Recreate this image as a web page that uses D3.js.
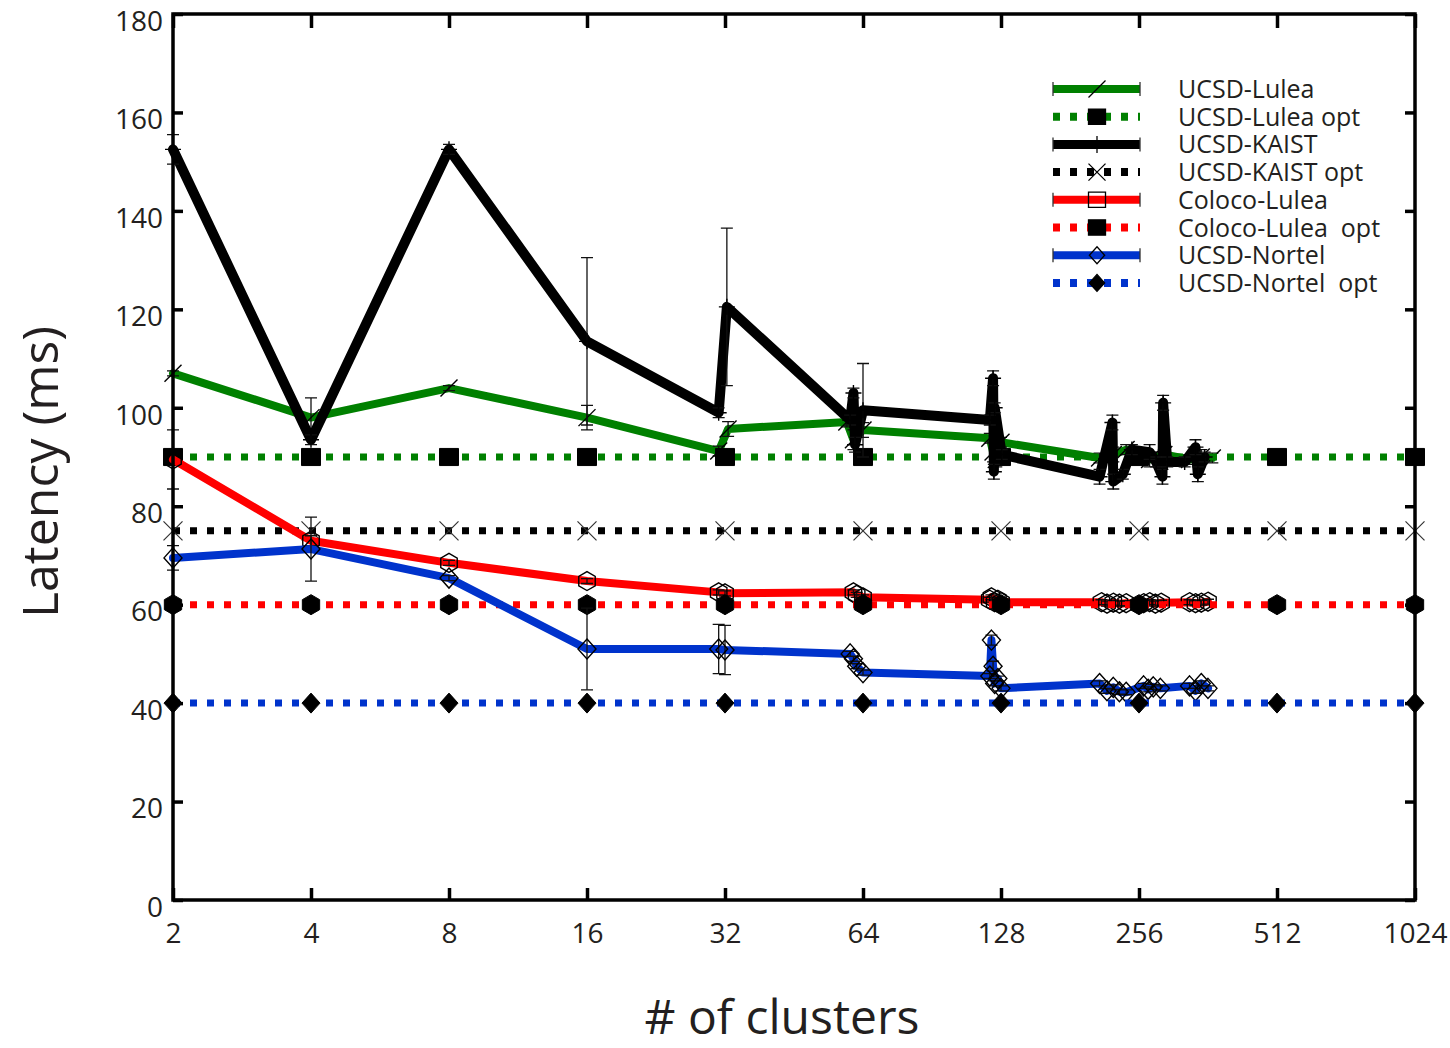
<!DOCTYPE html>
<html><head><meta charset="utf-8">
<script src="https://cdn.jsdelivr.net/npm/d3@7"></script>
<style>
body{margin:0;background:#fff}
text{font-family:"Open Sans",sans-serif;fill:#231f20;white-space:pre}
</style>
</head><body>
<svg id="c" width="1450" height="1048"></svg>
<script>
// ---------- data ----------
const xTicks = [2, 4, 8, 16, 32, 64, 128, 256, 512, 1024];
const yTicks = [0, 20, 40, 60, 80, 100, 120, 140, 160, 180];

const luleaX   = [2, 4, 8, 16, 31, 32.5, 59, 61, 64, 121, 123, 125, 128, 210, 225, 240, 255, 270, 290, 330, 350, 370];
const luleaY   = [107, 98, 104, 98, 91.2, 95.7, 97.1, 93.5, 95.5, 93.8, 91, 89.5, 93, 89.8, 90.5, 91.5, 90, 89.5, 90.5, 89.5, 90, 89.8];
const luleaErr = [0.5, 4, 0.5, 2.5, 1, 1.5, 1, 2, 1.5, 1, 2, 1.5, 1, 1, 1.5, 1, 1, 1.5, 1, 1, 1.5, 1];

const kaistX   = [2, 4, 8, 16, 31, 32.3, 60, 61, 61.5, 64, 121, 123, 123.5, 124, 128.5, 210, 224, 225, 236, 247, 270, 279, 288, 289, 295, 322, 340, 344, 356];
const kaistY   = [152.5, 93.5, 152.5, 113.5, 99, 120.5, 97.5, 103, 92.5, 99.5, 97.5, 106, 87, 100, 90.5, 86, 97, 85, 86.5, 91.5, 91, 89, 86, 101, 89, 89, 92, 86.5, 90];
const kaistErr = [3, 1, 1, 17, 1, 16, 1, 1, 1.5, 9.5, 1, 1.5, 1.5, 1, 1, 1.5, 1.5, 1.5, 1, 1, 1.5, 1, 1.5, 1.5, 1, 1, 1.5, 1.5, 1];

const colocoX   = [2, 4, 8, 16, 31, 32, 61, 62, 64, 121, 122, 124, 126, 128, 212, 218, 225, 232, 240, 262, 270, 278, 286, 330, 340, 350, 362];
const colocoY   = [89.5, 73, 68.5, 64.8, 62.5, 62.3, 62.5, 62, 61.5, 61, 61.5, 60.5, 61, 60.5, 60.5, 60.2, 60.4, 60.2, 60.3, 60.3, 60.5, 60.2, 60.4, 60.5, 60.3, 60.4, 60.6];
const colocoErr = [6, 1, 0.5, 0.5, 0.5, 0.5, 0.5, 0.5, 0.5, 0.5, 0.5, 0.5, 0.5, 0.5, 0.5, 0.5, 0.5, 0.5, 0.5, 0.5, 0.5, 0.5, 0.5, 0.5, 0.5, 0.5, 0.5];

const nortelX   = [2, 4, 8, 16, 31, 32, 60, 61, 62, 64, 121, 122, 123, 124, 126, 128, 210, 218, 225, 232, 240, 262, 268, 275, 285, 330, 340, 350, 362];
const nortelY   = [69.5, 71.3, 65.4, 51, 51, 50.8, 50, 49, 47.5, 46.2, 45.5, 52.8, 47.5, 44, 45, 43, 44, 42.5, 43.2, 42.3, 42.2, 43.5, 42.8, 43.3, 43, 43.5, 42.5, 44, 43];
const nortelErr = [2.5, 6.5, 0.5, 8.3, 5, 5, 0.5, 0.5, 0.5, 0.5, 0.5, 1, 1, 0.5, 0.5, 0.5, 0.5, 0.5, 0.5, 0.5, 0.5, 0.5, 0.5, 0.5, 0.5, 0.5, 0.5, 0.5, 0.5];

const optX = [2, 4, 8, 16, 32, 64, 128, 256, 512, 1024];
const luleaOpt  = [90, 90, 90, 90, 90, 90, 90, 90, 90, 90];
const kaistOpt  = [75, 75, 75, 75, 75, 75, 75, 75, 75, 75];
const colocoOpt = [60, 60, 60, 60, 60, 60, 60, 60, 60, 60];
const nortelOpt = [40, 40, 40, 40, 40, 40, 40, 40, 40, 40];

const legendLabels = ["UCSD-Lulea", "UCSD-Lulea opt", "UCSD-KAIST", "UCSD-KAIST opt",
                      "Coloco-Lulea", "Coloco-Lulea  opt", "UCSD-Nortel", "UCSD-Nortel  opt"];

// ---------- setup ----------
const svg = d3.select("#c");
const L = 173, R = 1415, T = 14, B = 900;
const x = d3.scaleLog().base(2).domain([2, 1024]).range([L, R]);
const y = d3.scaleLinear().domain([0, 180]).range([B, T]);

const GREEN = "#008000", RED = "#ff0000", BLUE = "#0033cc", BLACK = "#000";

const M = {
  slash: s => `M${-s/2},${s/2}L${s/2},${-s/2}`,
  plus: s => `M0,${-s/2}V${s/2}M${-s/2},0H${s/2}`,
  vtick: s => `M0,${-s/2}V${s/2}`,
  cross: s => `M${-s/2},${-s/2}L${s/2},${s/2}M${-s/2},${s/2}L${s/2},${-s/2}`,
  diamond: s => `M0,${-s/2}L${s/2*0.9},0L0,${s/2}L${-s/2*0.9},0Z`,
  square: s => `M${-s/2},${-s/2*0.9}H${s/2}V${s/2*0.9}H${-s/2}Z`,
  hex: s => { const r = s/2; let p = ""; for (let i = 0; i < 6; i++) { const a = Math.PI/3*i - Math.PI/2; p += (i ? "L" : "M") + (r*Math.cos(a)).toFixed(2) + "," + (r*Math.sin(a)).toFixed(2); } return p + "Z"; }
};

const gPlot = svg.append("g");

function solidSeries(xs, ys, es, color, width, shape, size) {
  const pts = xs.map((d, i) => ({x: d, y: ys[i], e: es[i]}));
  const g = gPlot.append("g");
  g.append("path").datum(pts)
    .attr("d", d3.line().x(d => x(d.x)).y(d => y(d.y)))
    .attr("fill", "none").attr("stroke", color).attr("stroke-width", width)
    .attr("stroke-linejoin", "round").attr("stroke-linecap", "round");
  const eb = g.selectAll("g.eb").data(pts).join("g");
  eb.append("line").attr("x1", d => x(d.x)).attr("x2", d => x(d.x))
    .attr("y1", d => y(d.y - d.e)).attr("y2", d => y(d.y + d.e))
    .attr("stroke", "#111").attr("stroke-width", 1.3);
  eb.append("path").attr("d", d => `M${x(d.x)-6},${y(d.y-d.e)}H${x(d.x)+6}M${x(d.x)-6},${y(d.y+d.e)}H${x(d.x)+6}`)
    .attr("stroke", "#111").attr("stroke-width", 1.3);
  g.selectAll("path.mk").data(pts).join("path").attr("class", "mk")
    .attr("transform", d => `translate(${x(d.x)},${y(d.y)})`)
    .attr("d", M[shape](size)).attr("fill", "none").attr("stroke", "#000").attr("stroke-width", 1.4);
}

function optSeries(xs, ys, color, shape, size, filled) {
  const pts = xs.map((d, i) => ({x: d, y: ys[i]}));
  const g = gPlot.append("g");
  g.append("path").datum(pts)
    .attr("d", d3.line().x(d => x(d.x)).y(d => y(d.y)))
    .attr("fill", "none").attr("stroke", color).attr("stroke-width", 7)
    .attr("stroke-dasharray", "7,10");
  g.selectAll("path.mk").data(pts).join("path").attr("class", "mk")
    .attr("transform", d => `translate(${x(d.x)},${y(d.y)})`)
    .attr("d", M[shape](size))
    .attr("fill", filled ? "#000" : "none").attr("stroke", filled ? "#000" : "#333")
    .attr("stroke-width", filled ? 1 : 1.2);
}

solidSeries(luleaX, luleaY, luleaErr, GREEN, 8, "slash", 17);
optSeries(optX, luleaOpt, GREEN, "square", 19, true);
solidSeries(kaistX, kaistY, kaistErr, BLACK, 10, "plus", 16);
optSeries(optX, kaistOpt, BLACK, "cross", 19, false);
solidSeries(colocoX, colocoY, colocoErr, RED, 8, "hex", 19);
optSeries(optX, colocoOpt, RED, "hex", 20, true);
solidSeries(nortelX, nortelY, nortelErr, BLUE, 8, "diamond", 20);
optSeries(optX, nortelOpt, BLUE, "diamond", 20, true);

// ---------- axes ----------
const fmt = d3.format("d");
const ax = svg.append("g");
ax.append("g").attr("transform", `translate(0,${B})`)
  .call(d3.axisBottom(x).tickValues(xTicks).tickFormat(fmt).tickSizeInner(-12).tickSizeOuter(0).tickPadding(23));
ax.append("g").attr("transform", `translate(0,${T})`)
  .call(d3.axisTop(x).tickValues(xTicks).tickFormat("").tickSizeInner(-14).tickSizeOuter(0));
const yl = ax.append("g").attr("transform", `translate(${L},0)`)
  .call(d3.axisLeft(y).tickValues(yTicks).tickFormat(fmt).tickSizeInner(-10).tickSizeOuter(0).tickPadding(10));
ax.append("g").attr("transform", `translate(${R},0)`)
  .call(d3.axisRight(y).tickValues(yTicks).tickFormat("").tickSizeInner(-10).tickSizeOuter(0));
ax.selectAll(".domain").remove();
ax.selectAll(".tick line").attr("stroke", "#000").attr("stroke-width", 3.5);
ax.selectAll(".tick text").attr("font-size", 28).attr("font-family", "'Open Sans',sans-serif").attr("fill", "#231f20");
yl.selectAll(".tick text").attr("dy", "0.58em");
ax.append("rect").attr("x", L).attr("y", T).attr("width", R - L).attr("height", B - T)
  .attr("fill", "none").attr("stroke", "#000").attr("stroke-width", 3.5);

// titles
svg.append("text").attr("x", 782).attr("y", 1034).attr("text-anchor", "middle")
  .attr("font-size", 48).text("# of clusters");
svg.append("text").attr("transform", "translate(58,472) rotate(-90)").attr("text-anchor", "middle")
  .attr("font-size", 50).text("Latency (ms)");

// ---------- legend ----------
const legendColors = [GREEN, GREEN, BLACK, BLACK, RED, RED, BLUE, BLUE];
const legendDotted = [false, true, false, true, false, true, false, true];
const legendShapes = ["slash", "square", "vtick", "cross", "square", "square", "diamond", "diamond"];
const legendFilled = [false, true, false, false, false, true, false, true];
const lg = svg.append("g");
const lx0 = 1053, lx1 = 1140, lxm = 1097, ltx = 1178, ly0 = 89, ldy = 27.7;
legendLabels.forEach((lab, i) => {
  const yy = ly0 + i * ldy;
  const row = lg.append("g");
  const ln = row.append("line").attr("x1", lx0).attr("x2", lx1).attr("y1", yy).attr("y2", yy)
    .attr("stroke", legendColors[i]).attr("stroke-width", i === 2 ? 9 : 8);
  if (legendDotted[i]) ln.attr("stroke-dasharray", "7,10");
  else row.append("path").attr("d", `M${lx0},${yy-7}V${yy+7}M${lx1},${yy-7}V${yy+7}`)
    .attr("stroke", "#333").attr("stroke-width", 1.3);
  row.append("path").attr("transform", `translate(${lxm},${yy})`)
    .attr("d", M[legendShapes[i]](17))
    .attr("fill", legendFilled[i] ? "#000" : "none").attr("stroke", "#000").attr("stroke-width", 1.3);
  row.append("text").attr("x", ltx).attr("y", yy).attr("dy", "0.36em").attr("font-size", 25).text(lab);
});
</script>
</body></html>
